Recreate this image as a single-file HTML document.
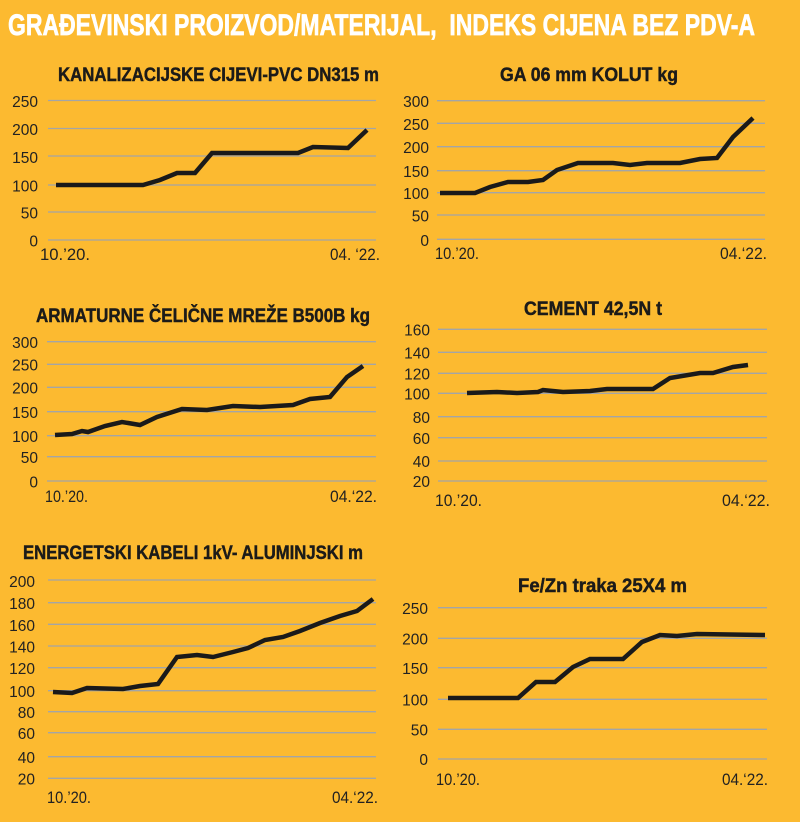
<!DOCTYPE html>
<html><head><meta charset="utf-8"><style>
html,body{margin:0;padding:0;background:#FCBA30;}
svg{display:block}
.t{font-family:"Liberation Sans",sans-serif;}
.st{font-family:"Liberation Sans",sans-serif;font-weight:bold;font-size:19px;fill:#1c1b19;stroke:#1c1b19;stroke-width:0.45;}
.tk{font-family:"Liberation Sans",sans-serif;font-size:15.5px;fill:#222;text-anchor:end;}
.xl{font-family:"Liberation Sans",sans-serif;font-size:16.5px;fill:#222;}
.g{stroke:#a3a5a7;stroke-width:1.3;}
.ln{fill:none;stroke:#1a1a1a;stroke-width:4.5;stroke-linejoin:miter;stroke-linecap:butt;}
</style></head><body>
<svg width="800" height="822" viewBox="0 0 800 822" xmlns="http://www.w3.org/2000/svg">
<rect width="800" height="822" fill="#FCBA30"/>
<text class="t" x="8" y="35" font-size="30" font-weight="bold" fill="#fff" stroke="#fff" stroke-width="0.7" textLength="747" lengthAdjust="spacingAndGlyphs" style="white-space:pre">GRAĐEVINSKI PROIZVOD/MATERIJAL,  INDEKS CIJENA BEZ PDV-A</text>

<!-- Chart 1 -->
<text class="st" x="58" y="81" textLength="321" lengthAdjust="spacingAndGlyphs">KANALIZACIJSKE CIJEVI-PVC DN315 m</text>
<g class="g">
<line x1="48" x2="376" y1="100.5" y2="100.5"/><line x1="48" x2="376" y1="128.5" y2="128.5"/><line x1="48" x2="376" y1="156" y2="156"/><line x1="48" x2="376" y1="185" y2="185"/><line x1="48" x2="376" y1="212" y2="212"/><line x1="48" x2="376" y1="240" y2="240"/>
</g>
<g class="tk"><text x="38" y="107">250</text><text x="38" y="135">200</text><text x="38" y="163">150</text><text x="38" y="191.5">100</text><text x="38" y="218.5">50</text><text x="38" y="246.5">0</text></g>
<text class="xl" x="40" y="260" textLength="50" lengthAdjust="spacingAndGlyphs">10.’20.</text>
<text class="xl" x="330" y="260" textLength="50" lengthAdjust="spacingAndGlyphs" style="white-space:pre">04. ‘22.</text>
<polyline class="ln" points="56,185 143,185 160,180 177,173 195,173 212,153 298,153 313,147 348,148 367,130"/>

<!-- Chart 2 -->
<text class="st" x="500" y="81" textLength="178" lengthAdjust="spacingAndGlyphs">GA 06 mm KOLUT kg</text>
<g class="g">
<line x1="437" x2="765" y1="100.7" y2="100.7"/><line x1="437" x2="765" y1="123.3" y2="123.3"/><line x1="437" x2="765" y1="146.7" y2="146.7"/><line x1="437" x2="765" y1="170.7" y2="170.7"/><line x1="437" x2="765" y1="192.7" y2="192.7"/><line x1="437" x2="765" y1="215" y2="215"/><line x1="437" x2="765" y1="239.3" y2="239.3"/>
</g>
<g class="tk"><text x="429" y="107">300</text><text x="429" y="130">250</text><text x="429" y="153">200</text><text x="429" y="177">150</text><text x="429" y="199">100</text><text x="429" y="221.5">50</text><text x="429" y="246">0</text></g>
<text class="xl" x="435" y="259" textLength="44" lengthAdjust="spacingAndGlyphs">10.’20.</text>
<text class="xl" x="720" y="259" textLength="47" lengthAdjust="spacingAndGlyphs">04.‘22.</text>
<polyline class="ln" points="440,193 475,193 490,187 508,182 528,182 543,180 557,170 578,163 613,163 630,165 647,163 680,163 700,159 717,158 733,137 753,118"/>

<!-- Chart 3 -->
<text class="st" x="36" y="322" textLength="334" lengthAdjust="spacingAndGlyphs">ARMATURNE ČELIČNE MREŽE B500B kg</text>
<g class="g">
<line x1="47" x2="376" y1="341.7" y2="341.7"/><line x1="47" x2="376" y1="364.3" y2="364.3"/><line x1="47" x2="376" y1="387.3" y2="387.3"/><line x1="47" x2="376" y1="411.7" y2="411.7"/><line x1="47" x2="376" y1="435.7" y2="435.7"/><line x1="47" x2="376" y1="456.7" y2="456.7"/><line x1="47" x2="376" y1="481" y2="481"/>
</g>
<g class="tk"><text x="38" y="348">300</text><text x="38" y="370.5">250</text><text x="38" y="393.5">200</text><text x="38" y="418">150</text><text x="38" y="442">100</text><text x="38" y="463">50</text><text x="38" y="487.5">0</text></g>
<text class="xl" x="45" y="502" textLength="43" lengthAdjust="spacingAndGlyphs">10.’20.</text>
<text class="xl" x="330" y="502" textLength="47" lengthAdjust="spacingAndGlyphs">04.‘22.</text>
<polyline class="ln" points="55,435 72,434 82,431 88,432 105,426 122,422 140,425 157,417 182,409 207,410 233,406 260,407 293,405 310,399 330,397 347,377 363,366"/>

<!-- Chart 4 -->
<text class="st" x="524" y="315" textLength="138" lengthAdjust="spacingAndGlyphs">CEMENT 42,5N t</text>
<g class="g">
<line x1="438" x2="767" y1="329.3" y2="329.3"/><line x1="438" x2="767" y1="352.3" y2="352.3"/><line x1="438" x2="767" y1="373.3" y2="373.3"/><line x1="438" x2="767" y1="393.3" y2="393.3"/><line x1="438" x2="767" y1="416.7" y2="416.7"/><line x1="438" x2="767" y1="437.7" y2="437.7"/><line x1="438" x2="767" y1="461" y2="461"/><line x1="438" x2="767" y1="481" y2="481"/>
</g>
<g class="tk"><text x="430" y="335.5">160</text><text x="430" y="358.5">140</text><text x="430" y="379.5">120</text><text x="430" y="399.5">100</text><text x="430" y="423">80</text><text x="430" y="444">60</text><text x="430" y="467">40</text><text x="430" y="487">20</text></g>
<text class="xl" x="435" y="506" textLength="47" lengthAdjust="spacingAndGlyphs">10.’20.</text>
<text class="xl" x="722" y="506" textLength="48" lengthAdjust="spacingAndGlyphs">04.‘22.</text>
<polyline class="ln" points="467,393 497,392 517,393 538,392 543,390 563,392 590,391 607,389 653,389 670,378 700,373 713,373 733,367 748,365"/>

<!-- Chart 5 -->
<text class="st" x="23" y="559" textLength="340" lengthAdjust="spacingAndGlyphs">ENERGETSKI KABELI 1kV- ALUMINJSKI m</text>
<g class="g">
<line x1="48" x2="376" y1="580" y2="580"/><line x1="48" x2="376" y1="602.7" y2="602.7"/><line x1="48" x2="376" y1="624.3" y2="624.3"/><line x1="48" x2="376" y1="646" y2="646"/><line x1="48" x2="376" y1="667.7" y2="667.7"/><line x1="48" x2="376" y1="690.7" y2="690.7"/><line x1="48" x2="376" y1="711.7" y2="711.7"/><line x1="48" x2="376" y1="732.7" y2="732.7"/><line x1="48" x2="376" y1="756.7" y2="756.7"/><line x1="48" x2="376" y1="778.3" y2="778.3"/>
</g>
<g class="tk"><text x="35" y="587">200</text><text x="35" y="609">180</text><text x="35" y="631">160</text><text x="35" y="652.5">140</text><text x="35" y="674">120</text><text x="35" y="697">100</text><text x="35" y="718">80</text><text x="35" y="739">60</text><text x="35" y="763">40</text><text x="35" y="784.5">20</text></g>
<text class="xl" x="47" y="803" textLength="44" lengthAdjust="spacingAndGlyphs">10.’20.</text>
<text class="xl" x="332" y="803" textLength="46" lengthAdjust="spacingAndGlyphs">04.‘22.</text>
<polyline class="ln" points="53,692 72,693 87,688 123,689 140,686 158,684 177,657 197,655 213,657 233,652 248,648 265,640 283,637 300,631 320,623 340,616 357,611 373,599"/>

<!-- Chart 6 -->
<text class="st" x="518" y="592" textLength="169" lengthAdjust="spacingAndGlyphs">Fe/Zn traka 25X4 m</text>
<g class="g">
<line x1="438" x2="767" y1="607.7" y2="607.7"/><line x1="438" x2="767" y1="638.3" y2="638.3"/><line x1="438" x2="767" y1="667.7" y2="667.7"/><line x1="438" x2="767" y1="699.3" y2="699.3"/><line x1="438" x2="767" y1="729.3" y2="729.3"/><line x1="438" x2="767" y1="759" y2="759"/>
</g>
<g class="tk"><text x="428" y="614">250</text><text x="428" y="644.5">200</text><text x="428" y="674">150</text><text x="428" y="705.5">100</text><text x="428" y="735.5">50</text><text x="428" y="765">0</text></g>
<text class="xl" x="436" y="785" textLength="44" lengthAdjust="spacingAndGlyphs">10.’20.</text>
<text class="xl" x="722" y="785" textLength="46" lengthAdjust="spacingAndGlyphs">04.‘22.</text>
<polyline class="ln" points="448,698 518,698 536,682 555,682 573,667 590,659 623,659 642,642 660,635 677,636 697,634 765,635"/>
</svg>
</body></html>
